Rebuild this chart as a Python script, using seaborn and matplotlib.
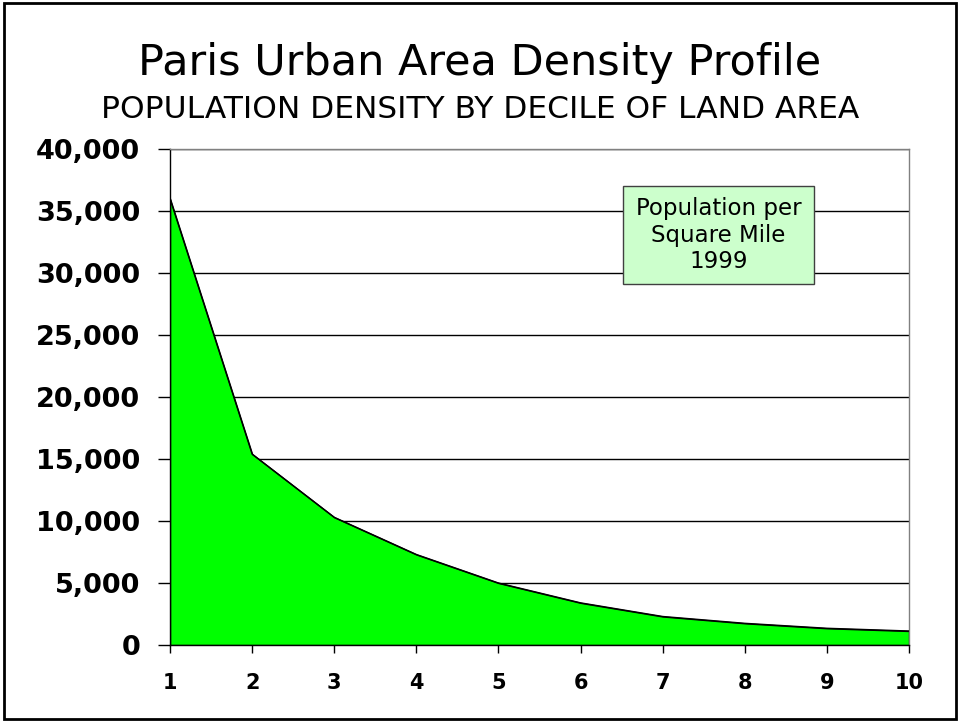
"""
Paris urban area density profile: population per square mile by decile of land area.
"""

import matplotlib
matplotlib.use("Agg")
import matplotlib.pyplot as plt
import matplotlib.ticker as mticker
from matplotlib.patches import Rectangle
import pandas as pd
import seaborn as sns

# decile of land area (1 = densest)
deciles = [1, 2, 3, 4, 5, 6, 7, 8, 9, 10]
# population per square mile, 1999
density = [36000, 15400, 10300, 7300, 5000, 3400, 2300, 1750, 1350, 1130]
y_ticks = [0, 5000, 10000, 15000, 20000, 25000, 30000, 35000, 40000]

title = "Paris Urban Area Density Profile"
subtitle = "POPULATION DENSITY BY DECILE OF LAND AREA"
note = "Population per\nSquare Mile\n1999"

df = pd.DataFrame({"decile": deciles, "density": density})

sns.set_style("white")
plt.rcParams["font.family"] = ["DejaVu Sans"]
plt.rcParams["text.color"] = "black"
plt.rcParams["xtick.color"] = "black"
plt.rcParams["ytick.color"] = "black"
plt.rcParams["axes.labelcolor"] = "black"

fig = plt.figure(figsize=(9.6, 7.21), dpi=100)
ax = fig.add_axes([0.1771, 0.1054, 0.9469 - 0.1771, 0.7933 - 0.1054])

# filled area, then the outline through seaborn
ax.fill_between(df["decile"], df["density"], 0, facecolor="#00FF00",
                edgecolor="black", linewidth=1.0, zorder=2)
sns.lineplot(data=df, x="decile", y="density", color="black",
             linewidth=1.0, ax=ax, zorder=3)

ax.set_xlim(1, 10)
ax.set_ylim(0, 40000)
ax.set_xticks(deciles)
ax.set_yticks(y_ticks)
ax.yaxis.set_major_formatter(mticker.StrMethodFormatter("{x:,.0f}"))
ax.set_xlabel("")
ax.set_ylabel("")

ax.set_axisbelow(True)
ax.yaxis.grid(True, color="black", linewidth=1.0)
ax.xaxis.grid(False)

for side in ["left", "bottom"]:
    ax.spines[side].set_color("black")
    ax.spines[side].set_linewidth(1.0)
for side in ["top", "right"]:
    ax.spines[side].set_color("#808080")
    ax.spines[side].set_linewidth(1.0)

ax.tick_params(axis="y", which="major", left=True, direction="out",
               length=8.5, width=1, color="black", pad=13,
               labelsize=19.5, labelcolor="black")
ax.tick_params(axis="x", which="major", bottom=True, direction="out",
               length=6, width=1, color="black", pad=14.5,
               labelsize=15, labelcolor="black")
for lab in ax.get_xticklabels() + ax.get_yticklabels():
    lab.set_fontweight("bold")

# note box in the upper right
ax.add_patch(Rectangle((0.6126, 0.7278), 0.8714 - 0.6126, 0.9254 - 0.7278,
                       transform=ax.transAxes, facecolor="#CCFFCC",
                       edgecolor="#404040", linewidth=1.0, zorder=4))
ax.text(0.742, 0.8266, note, transform=ax.transAxes, ha="center",
        va="center", fontsize=16.5, linespacing=1.2, color="black", zorder=5)

fig.text(0.5, 0.896, title, ha="center", va="baseline", fontsize=31,
         color="black")
fig.text(0.5, 0.836, subtitle, ha="center", va="baseline", fontsize=22.5,
         color="black")

# black frame around the whole chart
fig.patches.append(Rectangle((0.004, 0.003), 0.992, 0.993,
                             transform=fig.transFigure, fill=False,
                             edgecolor="black", linewidth=2.0))

fig.savefig("out.png", dpi=100)
plt.close(fig)
